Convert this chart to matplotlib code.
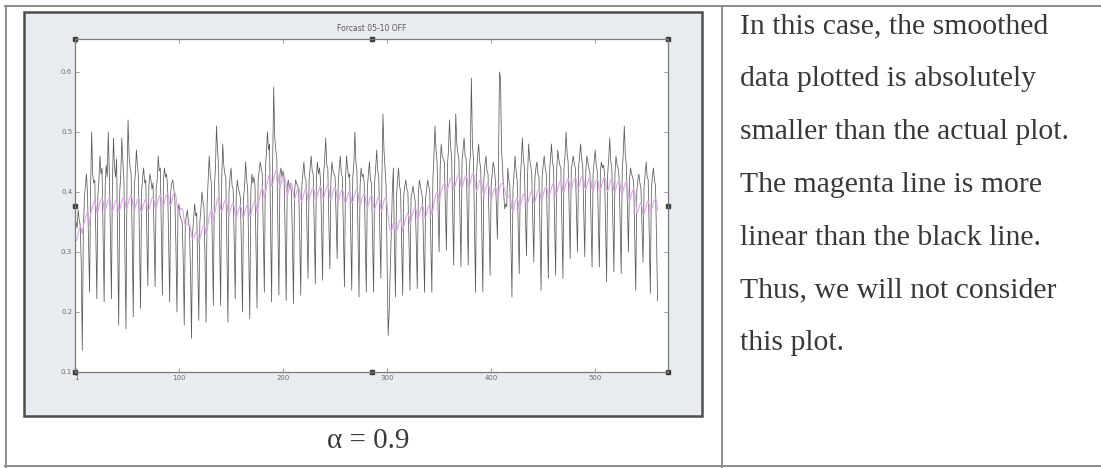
import numpy as np
import matplotlib.pyplot as plt
from matplotlib.patches import Rectangle
from matplotlib.lines import Line2D

W, H = 1101, 468

# daily values (Mon..Sun), one row per week, in thousandths
actual_weeks = [
    [350, 340, 370, 355, 345, 280, 136],
    [330, 390, 410, 430, 400, 320, 233],
    [405, 500, 430, 415, 420, 330, 222],
    [395, 420, 460, 430, 440, 325, 217],
    [410, 445, 425, 500, 430, 335, 222],
    [420, 490, 440, 425, 455, 310, 178],
    [400, 430, 490, 450, 420, 300, 172],
    [425, 520, 460, 440, 430, 320, 192],
    [410, 430, 470, 445, 425, 315, 206],
    [400, 425, 440, 415, 420, 330, 244],
    [410, 430, 420, 405, 415, 325, 242],
    [405, 420, 460, 435, 440, 330, 228],
    [420, 440, 425, 430, 410, 320, 217],
    [400, 415, 420, 405, 390, 310, 200],
    [370, 380, 360, 355, 350, 290, 178],
    [345, 360, 370, 350, 340, 270, 156],
    [330, 355, 380, 360, 365, 280, 186],
    [350, 370, 400, 385, 375, 285, 183],
    [380, 420, 460, 430, 415, 310, 211],
    [410, 440, 510, 470, 445, 320, 211],
    [420, 480, 445, 430, 425, 305, 183],
    [400, 425, 440, 410, 405, 320, 222],
    [395, 420, 405, 400, 390, 305, 200],
    [390, 410, 450, 420, 405, 300, 189],
    [400, 430, 415, 425, 410, 310, 206],
    [420, 435, 450, 440, 430, 335, 233],
    [440, 465, 500, 470, 480, 340, 217],
    [450, 575, 490, 470, 455, 345, 228],
    [430, 440, 425, 435, 420, 330, 219],
    [410, 420, 405, 415, 400, 320, 214],
    [400, 420, 415, 410, 405, 325, 228],
    [410, 430, 450, 425, 420, 340, 256],
    [420, 440, 460, 435, 430, 340, 247],
    [425, 450, 430, 440, 420, 345, 253],
    [430, 455, 490, 445, 440, 350, 272],
    [420, 450, 435, 430, 425, 355, 289],
    [415, 440, 460, 430, 425, 335, 242],
    [420, 460, 440, 425, 430, 330, 236],
    [425, 445, 500, 450, 435, 330, 225],
    [410, 440, 425, 430, 415, 325, 233],
    [405, 430, 450, 420, 415, 325, 233],
    [415, 440, 470, 435, 425, 335, 256],
    [420, 530, 470, 440, 410, 290, 161],
    [200, 270, 330, 400, 440, 320, 225],
    [390, 420, 440, 410, 400, 315, 228],
    [395, 410, 420, 405, 400, 320, 236],
    [390, 400, 410, 395, 385, 320, 239],
    [395, 420, 410, 400, 390, 315, 233],
    [390, 405, 420, 410, 400, 320, 233],
    [420, 460, 510, 470, 450, 370, 300],
    [440, 480, 460, 455, 450, 380, 303],
    [445, 470, 520, 475, 460, 370, 278],
    [450, 530, 480, 465, 455, 365, 275],
    [450, 470, 490, 460, 455, 370, 278],
    [440, 460, 590, 480, 455, 345, 233],
    [430, 460, 480, 450, 440, 340, 233],
    [420, 445, 460, 435, 430, 350, 261],
    [410, 430, 450, 440, 420, 380, 322],
    [430, 600, 590, 470, 440, 400, 372],
    [380, 375, 440, 420, 410, 320, 225],
    [405, 430, 460, 435, 420, 340, 264],
    [420, 450, 490, 455, 440, 360, 294],
    [425, 480, 455, 445, 430, 355, 283],
    [420, 440, 450, 430, 425, 335, 236],
    [425, 445, 460, 440, 430, 345, 256],
    [430, 455, 480, 450, 440, 350, 261],
    [435, 470, 455, 445, 440, 350, 256],
    [440, 460, 500, 465, 450, 365, 289],
    [435, 450, 460, 445, 440, 370, 300],
    [440, 460, 480, 455, 445, 365, 292],
    [435, 460, 450, 440, 430, 355, 275],
    [430, 450, 470, 445, 435, 355, 275],
    [435, 450, 440, 445, 430, 345, 250],
    [430, 455, 490, 450, 440, 350, 267],
    [430, 460, 445, 440, 425, 350, 264],
    [435, 465, 510, 460, 445, 370, 300],
    [420, 440, 430, 425, 415, 330, 236],
    [400, 420, 430, 415, 405, 345, 283],
    [410, 430, 450, 425, 420, 330, 231],
    [405, 425, 440, 420, 410, 320, 219],
]

smoothed_weeks = [
    [318, 322, 330, 338, 342, 340, 330],
    [343, 350, 357, 362, 365, 359, 345],
    [363, 370, 377, 382, 385, 379, 365],
    [368, 375, 382, 387, 390, 384, 370],
    [368, 375, 382, 387, 390, 384, 370],
    [366, 373, 380, 385, 388, 382, 368],
    [370, 377, 384, 389, 392, 386, 372],
    [373, 380, 387, 392, 395, 389, 375],
    [368, 375, 382, 387, 390, 384, 370],
    [366, 373, 380, 385, 388, 382, 368],
    [370, 377, 384, 389, 392, 386, 372],
    [373, 380, 387, 392, 395, 389, 375],
    [376, 383, 390, 395, 398, 392, 378],
    [378, 385, 392, 397, 400, 394, 380],
    [365, 368, 370, 372, 373, 366, 352],
    [345, 346, 347, 348, 347, 340, 328],
    [322, 324, 328, 332, 335, 328, 316],
    [322, 328, 336, 342, 345, 340, 328],
    [340, 348, 358, 366, 370, 364, 352],
    [362, 370, 380, 388, 392, 386, 372],
    [366, 373, 380, 385, 388, 382, 368],
    [360, 367, 374, 379, 382, 376, 362],
    [356, 363, 370, 375, 378, 372, 358],
    [358, 365, 372, 377, 380, 374, 360],
    [363, 370, 377, 382, 385, 379, 365],
    [375, 385, 395, 403, 408, 402, 390],
    [398, 408, 418, 426, 430, 424, 410],
    [412, 422, 430, 435, 437, 430, 416],
    [406, 413, 420, 425, 428, 422, 408],
    [393, 400, 407, 412, 415, 409, 395],
    [386, 393, 400, 405, 408, 402, 388],
    [383, 390, 397, 402, 405, 399, 385],
    [386, 393, 400, 405, 408, 402, 388],
    [388, 395, 402, 407, 410, 404, 390],
    [390, 397, 404, 409, 412, 406, 392],
    [386, 393, 400, 405, 408, 402, 388],
    [383, 390, 397, 402, 405, 399, 385],
    [380, 387, 394, 399, 402, 396, 382],
    [383, 390, 397, 402, 405, 399, 385],
    [376, 383, 390, 395, 398, 392, 378],
    [373, 380, 387, 392, 395, 389, 375],
    [370, 377, 384, 389, 392, 386, 372],
    [368, 378, 386, 390, 390, 380, 360],
    [344, 337, 335, 340, 348, 345, 335],
    [333, 340, 347, 352, 355, 349, 335],
    [343, 350, 357, 362, 365, 359, 345],
    [353, 360, 367, 372, 375, 369, 355],
    [356, 363, 370, 375, 378, 372, 358],
    [358, 365, 372, 377, 380, 374, 362],
    [370, 380, 390, 397, 400, 395, 385],
    [393, 400, 407, 412, 415, 411, 400],
    [403, 410, 417, 422, 425, 419, 405],
    [408, 415, 422, 427, 430, 424, 410],
    [406, 413, 420, 425, 428, 422, 408],
    [408, 415, 425, 430, 432, 425, 410],
    [400, 407, 414, 419, 422, 416, 402],
    [393, 400, 407, 412, 415, 409, 395],
    [386, 393, 400, 405, 408, 404, 396],
    [394, 405, 412, 414, 414, 410, 404],
    [396, 392, 392, 393, 394, 386, 372],
    [368, 375, 382, 387, 390, 384, 370],
    [376, 383, 390, 395, 398, 392, 378],
    [380, 387, 394, 399, 402, 396, 382],
    [383, 390, 397, 402, 405, 399, 385],
    [388, 395, 402, 407, 410, 404, 390],
    [393, 400, 407, 412, 415, 409, 395],
    [398, 405, 412, 417, 420, 414, 400],
    [400, 407, 414, 419, 422, 416, 402],
    [403, 410, 417, 422, 425, 419, 405],
    [406, 413, 420, 425, 428, 422, 408],
    [403, 410, 417, 422, 425, 419, 405],
    [400, 407, 414, 419, 422, 416, 402],
    [403, 410, 417, 422, 425, 419, 405],
    [400, 407, 414, 419, 422, 416, 402],
    [398, 405, 412, 417, 420, 414, 400],
    [396, 403, 410, 415, 418, 412, 398],
    [383, 390, 397, 402, 405, 399, 385],
    [365, 368, 374, 379, 382, 376, 362],
    [363, 370, 377, 382, 385, 379, 365],
    [368, 375, 382, 387, 390, 384, 370],
]

x_ticks = [1, 100, 200, 300, 400, 500]
y_ticks = [0.1, 0.2, 0.3, 0.4, 0.5, 0.6]
chart_title = 'Forcast 05-10 OFF'
caption = 'α = 0.9'
comment_lines = [
    'In this case, the smoothed',
    'data plotted is absolutely',
    'smaller than the actual plot.',
    'The magenta line is more',
    'linear than the black line.',
    'Thus, we will not consider',
    'this plot.',
]

actual = np.array(actual_weeks).ravel() / 1000
smoothed = np.array(smoothed_weeks).ravel() / 1000
days = np.arange(1, len(actual) + 1)


def fx(px):
    return px / W


def fy(py):
    return 1 - py / H


fig = plt.figure(figsize=(W / 100, H / 100), dpi=100)
fig.patch.set_facecolor('white')

# table rules of the scanned page
line_col = '#8c8c8c'
fig.add_artist(Line2D([fx(5), fx(1101)], [fy(6), fy(6)], color=line_col, lw=1.4))
fig.add_artist(Line2D([fx(6), fx(6)], [fy(6), fy(468)], color=line_col, lw=1.4))
fig.add_artist(Line2D([fx(722), fx(722)], [fy(6), fy(468)], color=line_col, lw=1.4))
fig.add_artist(Line2D([fx(5), fx(1101)], [fy(466), fy(466)], color=line_col, lw=1.4))

# grey window of the screenshot, kept behind the axes
fig.add_artist(Rectangle((fx(24), fy(416)), fx(702) - fx(24), fy(12) - fy(416),
                         facecolor='#e8ebef', edgecolor='#4d4d4d', lw=1.8, zorder=-5))

ax = fig.add_axes([fx(75), fy(372), fx(668) - fx(75), fy(39) - fy(372)])
ax.set_zorder(2)
ax.set_facecolor('white')
ax.plot(days, actual, color='#5a5a5a', lw=0.55)
ax.plot(days, smoothed, color='#dba6e6', lw=0.8)

ax.set_xlim(0, 570)
ax.set_ylim(0.1, 0.655)
ax.set_xticks(x_ticks)
ax.set_yticks(y_ticks)
ax.set_xticklabels([str(v) for v in x_ticks])
ax.set_yticklabels(['%.1f' % v for v in y_ticks])
ax.tick_params(direction='in', length=3, width=0.6, colors='#8a8a8a',
               labelsize=5, labelcolor='#6f6f6f', top=True, right=True, pad=2)
for s in ax.spines.values():
    s.set_color('#7a7a7a')
    s.set_linewidth(0.9)
ax.set_title(chart_title, fontsize=5.5, color='#5a5a5a', pad=6)

# selection handles
hx = [0, 0.5, 1, 0, 1, 0, 0.5, 1]
hy = [1, 1, 1, 0.5, 0.5, 0, 0, 0]
ax.plot(hx, hy, 's', ms=3, color='#3c3c3c', transform=ax.transAxes, clip_on=False)

fig.text(fx(368), fy(448), caption, ha='center', va='baseline',
         family='Liberation Serif', fontsize=21, color='#3a3a3a')

baselines = [33, 86, 139, 192, 245, 297, 350]
for txt, b in zip(comment_lines, baselines):
    fig.text(fx(740), fy(b), txt, ha='left', va='baseline',
             family='Liberation Serif', fontsize=21.4, color='#383838')

fig.savefig('out.png', dpi=100)
